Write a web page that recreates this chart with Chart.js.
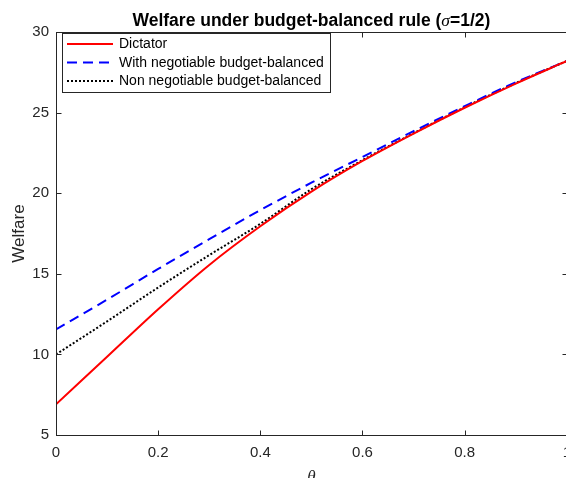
<!DOCTYPE html>
<html>
<head>
<meta charset="utf-8">
<script src="https://cdn.jsdelivr.net/npm/chart.js@4/dist/chart.umd.min.js"></script>
<style>
  html, body { margin: 0; padding: 0; background: #fff; overflow: hidden; }
  #wrap { position: absolute; left: 0; top: 0; }
</style>
</head>
<body>
<div id="wrap"><canvas id="welfareChart" width="580" height="492"></canvas></div>
<script>
const theta = [0, 0.1, 0.2, 0.3, 0.4, 0.5, 0.6, 0.7, 0.8, 0.9, 1];

const dictator = [6.9, 9.85, 12.8, 15.55, 17.95, 20.1, 22.0, 23.7, 25.3, 26.8, 28.2];
const negotiable = [11.55, 13.4, 15.3, 17.15, 18.95, 20.65, 22.25, 23.85, 25.4, 26.88, 28.2];
const nonNegotiable = [10.0, 12.05, 14.15, 16.16, 18.1, 20.25, 22.05, 23.72, 25.33, 26.83, 28.2];

const seriesNames = ["Dictator", "With negotiable budget-balanced", "Non negotiable budget-balanced"];

const xTicks = [0, 0.2, 0.4, 0.6, 0.8, 1];
const yTicks = [5, 10, 15, 20, 25, 30];

const axisColor = "#262626";
const sansFont = "'Liberation Sans', Arial, Helvetica, sans-serif";
const serifFont = "'Liberation Serif', 'Times New Roman', serif";

function toPoints(values) {
  return theta.map((t, i) => ({ x: t, y: values[i] }));
}

// matlab style box, inward ticks, title and legend
const matlabDecor = {
  id: "matlabDecor",
  afterDatasetsDraw(chart) {
    const ctx = chart.ctx;
    const area = chart.chartArea;
    const xs = chart.scales.x;
    const ys = chart.scales.y;
    const L = Math.round(area.left) + 0.5;
    const R = Math.round(area.right) + 0.5;
    const T = Math.round(area.top) + 0.5;
    const B = Math.round(area.bottom) + 0.5;

    ctx.save();
    ctx.strokeStyle = axisColor;
    ctx.lineWidth = 1;
    ctx.setLineDash([]);
    ctx.strokeRect(L, T, R - L, B - T);

    ctx.beginPath();
    xTicks.forEach((v) => {
      const px = Math.round(xs.getPixelForValue(v)) + 0.5;
      ctx.moveTo(px, B); ctx.lineTo(px, B - 5);
      ctx.moveTo(px, T); ctx.lineTo(px, T + 5);
    });
    yTicks.forEach((v) => {
      const py = Math.round(ys.getPixelForValue(v)) + 0.5;
      ctx.moveTo(L, py); ctx.lineTo(L + 5, py);
      ctx.moveTo(R, py); ctx.lineTo(R - 5, py);
    });
    ctx.stroke();

    // legend
    const lx = 62.5, ly = 33.5, lw = 268, lh = 59;
    ctx.fillStyle = "#fff";
    ctx.fillRect(lx, ly, lw, lh);
    ctx.strokeStyle = axisColor;
    ctx.strokeRect(lx, ly, lw, lh);

    const rowY = [44, 62.5, 81];
    chart.data.datasets.forEach((ds, i) => {
      ctx.beginPath();
      ctx.strokeStyle = ds.borderColor;
      ctx.lineWidth = ds.borderWidth;
      ctx.setLineDash(ds.borderDash || []);
      ctx.moveTo(67, rowY[i]);
      ctx.lineTo(113, rowY[i]);
      ctx.stroke();
      ctx.setLineDash([]);
      ctx.fillStyle = "#000";
      ctx.font = "14px " + sansFont;
      ctx.textAlign = "left";
      ctx.textBaseline = "middle";
      ctx.fillText(ds.label, 119, rowY[i] + 0.5);
    });

    // title with italic sigma
    const parts = [
      { text: "Welfare under budget-balanced rule (", font: "bold 17.5px " + sansFont },
      { text: "\u03c3", font: "italic 17.5px " + serifFont },
      { text: "=1/2)", font: "bold 17.5px " + sansFont }
    ];
    let total = 0;
    parts.forEach((p) => {
      ctx.font = p.font;
      p.w = ctx.measureText(p.text).width;
      total += p.w;
    });
    let tx = (area.left + area.right) / 2 - total / 2;
    ctx.fillStyle = "#000";
    ctx.textAlign = "left";
    ctx.textBaseline = "alphabetic";
    parts.forEach((p) => {
      ctx.font = p.font;
      ctx.fillText(p.text, tx, 26);
      tx += p.w;
    });
    ctx.restore();
  }
};

const ctx = document.getElementById("welfareChart");

new Chart(ctx, {
  type: "line",
  data: {
    datasets: [
      {
        label: seriesNames[0],
        data: toPoints(dictator),
        borderColor: "#ff0000",
        borderWidth: 2,
        pointRadius: 0,
        cubicInterpolationMode: "monotone"
      },
      {
        label: seriesNames[1],
        data: toPoints(negotiable),
        borderColor: "#0000ff",
        borderWidth: 2,
        borderDash: [10, 6],
        pointRadius: 0,
        cubicInterpolationMode: "monotone"
      },
      {
        label: seriesNames[2],
        data: toPoints(nonNegotiable),
        borderColor: "#000000",
        borderWidth: 2,
        borderDash: [2, 2],
        pointRadius: 0,
        cubicInterpolationMode: "monotone"
      }
    ]
  },
  options: {
    responsive: false,
    animation: false,
    devicePixelRatio: 1,
    layout: { padding: { left: 0, right: 12, top: 32, bottom: 0 } },
    plugins: {
      legend: { display: false },
      title: { display: false },
      tooltip: { enabled: false }
    },
    scales: {
      x: {
        type: "linear",
        min: 0,
        max: 1,
        afterFit: (s) => { s.height = 57; },
        afterBuildTicks: (s) => { s.ticks = xTicks.map((v) => ({ value: v })); },
        grid: { display: false, drawTicks: false },
        border: { display: false },
        ticks: {
          padding: 9,
          color: axisColor,
          font: { family: sansFont, size: 15 },
          callback: (v) => String(v)
        },
        title: {
          display: true,
          text: "\u03b8",
          color: axisColor,
          font: { family: serifFont, size: 17, style: "italic" },
          padding: { top: 0, bottom: 4 }
        }
      },
      y: {
        min: 5,
        max: 30,
        afterFit: (s) => { s.width = 56; },
        afterBuildTicks: (s) => { s.ticks = yTicks.map((v) => ({ value: v })); },
        grid: { display: false, drawTicks: false },
        border: { display: false },
        ticks: {
          padding: 7,
          color: axisColor,
          font: { family: sansFont, size: 15 },
          callback: (v) => String(v)
        },
        title: {
          display: true,
          text: "Welfare",
          color: axisColor,
          font: { family: sansFont, size: 17 },
          padding: { top: 9, bottom: 0 }
        }
      }
    }
  },
  plugins: [matlabDecor]
});
</script>
</body>
</html>
